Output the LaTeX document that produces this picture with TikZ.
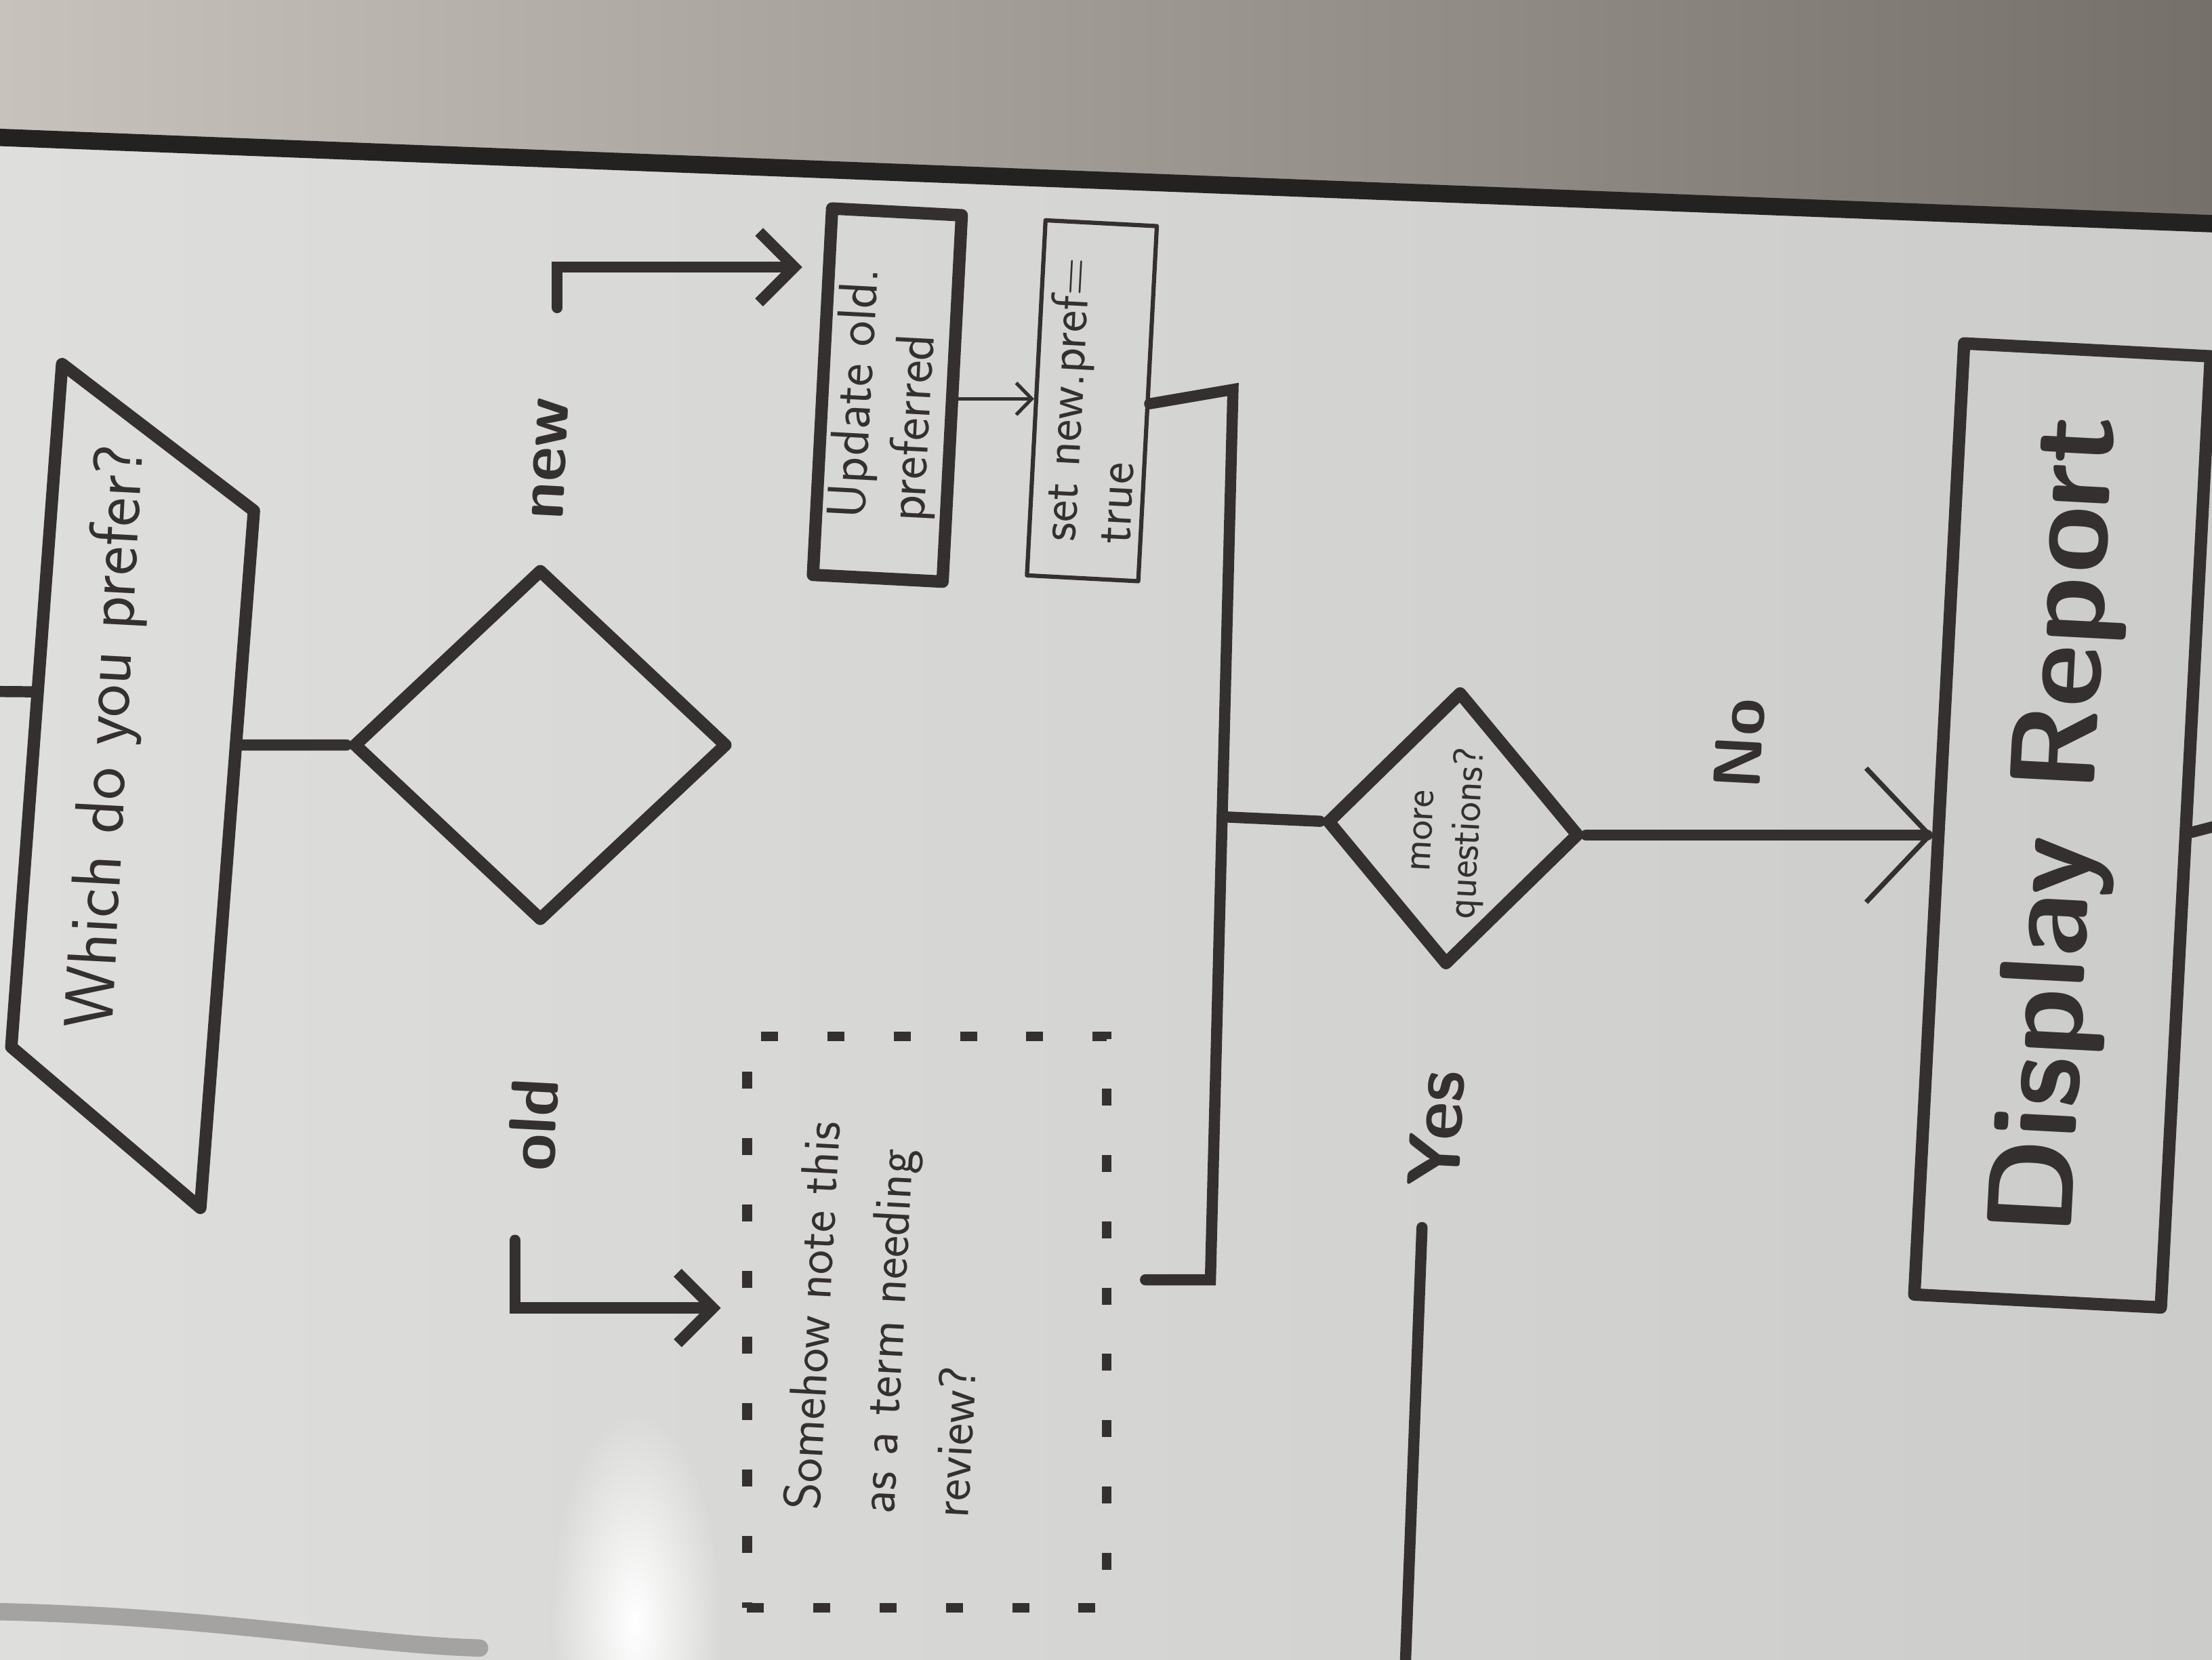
\documentclass[tikz,border=0pt]{standalone}
\usepackage{fontspec}
\usetikzlibrary{%
		shapes.geometric%
		,arrows.meta%
		,calc%
	}

\definecolor{ink}{RGB}{52,48,48}
\definecolor{boardL}{RGB}{222,222,220}
\definecolor{boardR}{RGB}{204,204,202}
\definecolor{boardG}{RGB}{217,217,215}
\definecolor{wallL}{RGB}{200,194,188}
\definecolor{wallR}{RGB}{118,112,106}
\definecolor{rim}{RGB}{36,33,33}
\definecolor{smear}{RGB}{165,163,161}

\tikzset{
	inkline/.style={draw=ink, line width=5pt, line join=round, line cap=round},
	wire/.style={draw=ink, line width=4.5pt, line cap=round},
	hairwire/.style={draw=ink, line width=1.4pt, line cap=round},
	barb/.style={-{Straight Barb[length=5mm,width=10mm]}},
	smallbarb/.style={-{Straight Barb[length=2.2mm,width=4.5mm]}},
	bigbarb/.style={-{Straight Barb[length=9mm,width=19mm,line width=2pt]}},
	scrawl/.style={rotate=87, text=ink, font=\sffamily, inner sep=0pt},
	branch/.style={scrawl, font=\sffamily\bfseries\fontsize{27}{27}\selectfont},
	decision/.style={inkline, diamond, minimum width=53.2mm, minimum height=50mm, inner sep=0pt},
	ask/.style={scrawl, inkline, diamond, minimum width=39mm, minimum height=36mm, inner sep=0pt},
	procbox/.style={scrawl, inkline, rectangle, align=left, inner sep=2pt},
	notebox/.style={draw=ink, line width=4pt, dash pattern=on 2.4mm off 7mm, minimum width=51mm, minimum height=81mm},
}

\begin{document}
\begin{tikzpicture}[x=0.2mm, y=-0.2mm]
	\useasboundingbox (0,0) rectangle (1568,1176);
	\clip (0,0) rectangle (1568,1176);
	% board, wall and rim of the photo
	\shade[left color=boardL, right color=boardR] (0,0) rectangle (1568,1176);
	\shade[left color=wallL, right color=wallR] (0,0) -- (1568,0) -- (1568,158) -- (0,98) -- cycle;
	\draw[rim, line width=7pt] (-10,97) -- (1580,159);
	\shade[inner color=white, outer color=boardG] (450,1150) ellipse [x radius=12mm, y radius=30mm];
	\draw[smear, line width=7pt, line cap=round] (-10,1142) .. controls (150,1145) and (250,1165) .. (340,1168);

	% input
	\coordinate (ioTL) at (44,258);
	\coordinate (ioTR) at (180,362);
	\coordinate (ioBR) at (142,856);
	\coordinate (ioBL) at (8,742);
	\draw[inkline] (ioTL) -- (ioTR) -- (ioBR) -- (ioBL) -- cycle;
	\node[scrawl, font=\sffamily\fontsize{28}{30}\selectfont] (which) at (78,522) {Which do you prefer?};
	\coordinate (inflow) at (-10,490);
	\draw[wire] (inflow) -- ($(ioTL)!0.48!(ioBL)$);

	\node[decision] (choice) at (383,528) {};
	\draw[wire] ($(ioTR)!0.336!(ioBR)$) -- (choice.west);

	\node[branch] (newlbl) at (390,325) {new};
	\node[branch] (oldlbl) at (378,797) {old};

	% new branch
	\node[procbox, minimum width=52mm, minimum height=18.4mm, font=\sffamily\fontsize{22}{24}\selectfont] (update) at (629,280) {Update old.\\preferred};
	\node[procbox, line width=1.7pt, minimum width=50.4mm, minimum height=15.8mm, font=\sffamily\fontsize{21}{22}\selectfont] (set) at (774,284) {set new.pref=\\true};
	\coordinate (newfoot) at (395,218);
	\draw[wire, barb] (newfoot) |- ([xshift=-2mm, yshift=17.6mm]update.north);
	\draw[hairwire, smallbarb] (update.south) -- (update.south -| set.north);

	% old branch
	\node[notebox] (note) at (657,937) {};
	\node[scrawl, align=left, font=\sffamily\fontsize{21}{30}\selectfont] (notetxt) at (628,935) {Somehow note this\\as a term needing\\review?};
	\coordinate (oldfoot) at (365,879);
	\draw[wire, barb] (oldfoot) |- ([xshift=-3mm, yshift=2mm]note.west);

	% merge
	\coordinate (bustop) at (874,276);
	\coordinate (busbot) at (858,907);
	\coordinate (notestub) at (812,907);
	\draw[wire] (set.south) -- (bustop) -- (busbot) -- (notestub);

	\node[ask] (more) at (1030,587) {};
	\node[scrawl, align=center, font=\sffamily\fontsize{17}{19}\selectfont] (moretxt) at (1028,590) {more\\questions?};
	\draw[wire] ($(bustop)!0.48!(busbot)$) -- (more.north);

	% no
	\node[procbox, minimum width=135mm, minimum height=35mm, font=\sffamily\bfseries\fontsize{49}{49}\selectfont] (report) at (1462,585) {Display Report};
	\draw[wire, bigbarb] (more.south) -- (more.south -| report.north);
	\node[branch] (nolbl) at (1233,527) {No};
	\coordinate (offpage) at (1580,583);
	\draw[wire] (report.south) -- (offpage);

	% yes
	\node[branch, font=\sffamily\bfseries\fontsize{30}{30}\selectfont] (yeslbl) at (1018,800) {Yes};
	\coordinate (yesfoot) at (1008,870);
	\coordinate (yesdown) at (996,1185);
	\draw[wire] (yesfoot) -- (yesdown);
\end{tikzpicture}
\end{document}
